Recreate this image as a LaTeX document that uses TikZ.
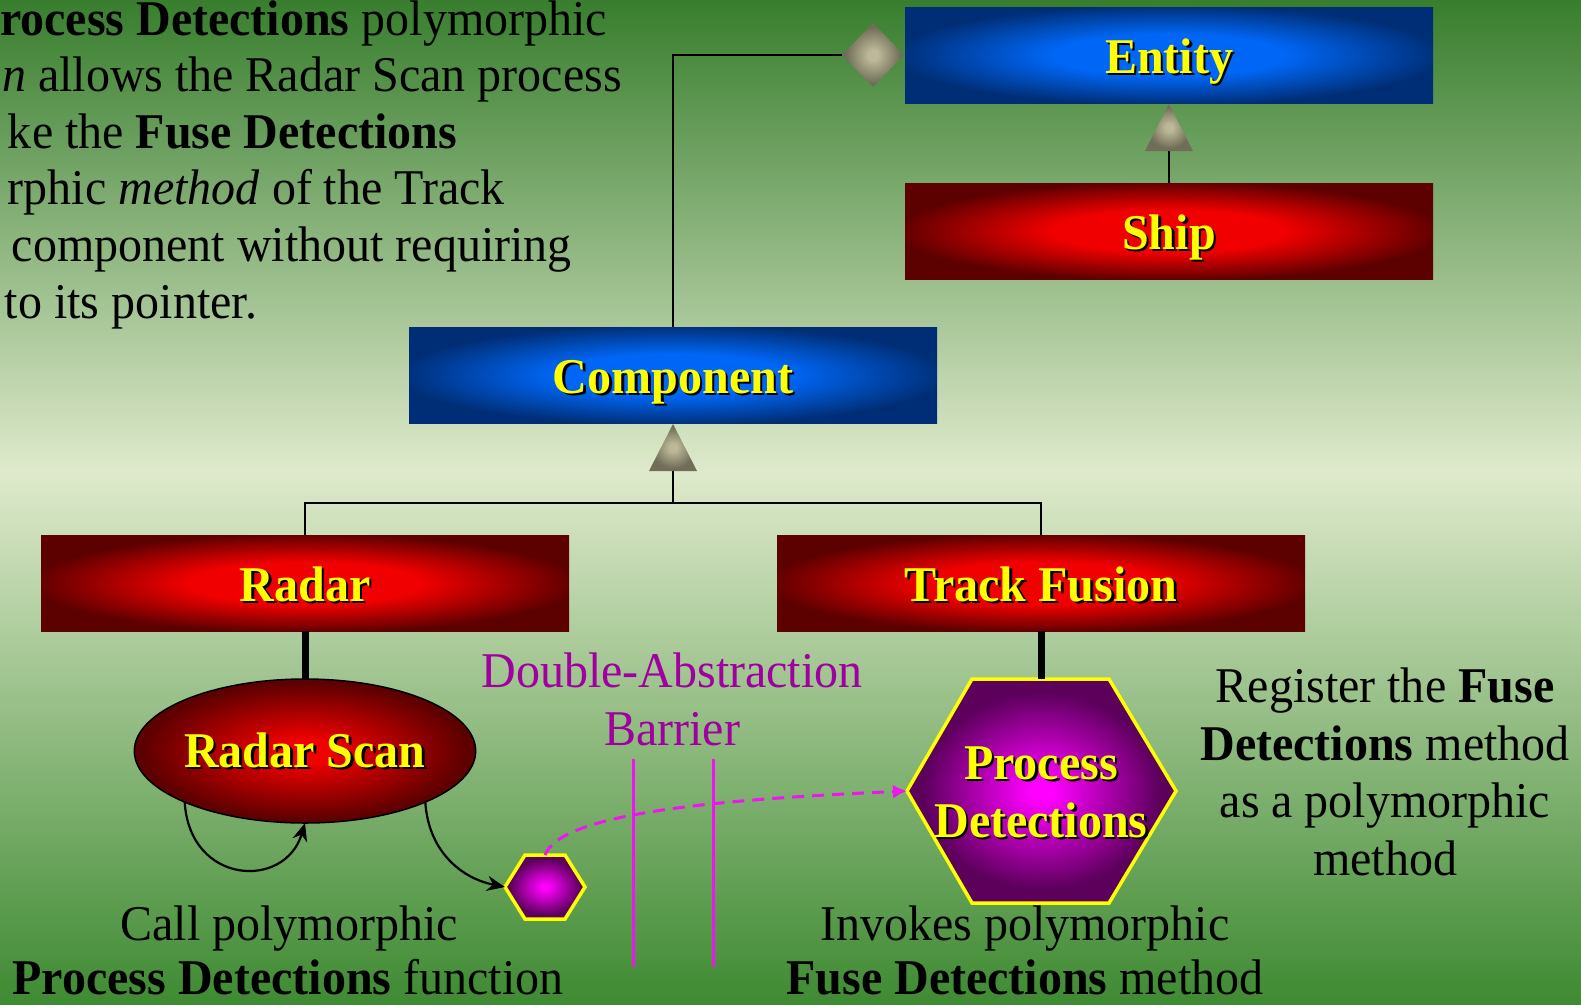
\documentclass[tikz,border=0pt]{standalone}
\usepackage{fontspec}
\setmainfont{Liberation Serif}[FakeStretch=0.96]
\usetikzlibrary{arrows.meta,shapes.geometric}
\definecolor{bgtop}{RGB}{56,126,46}
\definecolor{bglight}{RGB}{223,234,204}
\definecolor{bgbot}{RGB}{62,138,50}
\definecolor{rbright}{RGB}{240,0,0}
\definecolor{rdark}{RGB}{92,0,0}
\definecolor{bbright}{RGB}{0,102,245}
\definecolor{bdark}{RGB}{0,46,118}
\definecolor{mbright}{RGB}{255,0,255}
\definecolor{mdark}{RGB}{92,0,92}
\definecolor{kbright}{RGB}{188,184,152}
\definecolor{kdark}{RGB}{112,110,88}
\definecolor{barrier}{RGB}{240,20,240}
\definecolor{purpletxt}{RGB}{160,0,160}
\definecolor{lblyellow}{RGB}{255,255,0}
\pgfdeclareradialshading{redfill}{\pgfpoint{0bp}{0bp}}{color(0bp)=(rbright); color(11bp)=(rbright); color(26bp)=(rdark); color(50bp)=(rdark)}
\pgfdeclareradialshading{bluefill}{\pgfpoint{0bp}{0bp}}{color(0bp)=(bbright); color(11bp)=(bbright); color(26bp)=(bdark); color(50bp)=(bdark)}
\pgfdeclareradialshading{ellfill}{\pgfpoint{0bp}{0bp}}{color(0bp)=(rbright); color(4bp)=(rbright); color(24bp)=(rdark); color(50bp)=(rdark)}
\pgfdeclareradialshading{magfill}{\pgfpoint{0bp}{0bp}}{color(0bp)=(mbright); color(2bp)=(mbright); color(22bp)=(mdark); color(50bp)=(mdark)}
\pgfdeclareradialshading{khakifill}{\pgfpoint{0bp}{0bp}}{color(0bp)=(kbright); color(4bp)=(kbright); color(22bp)=(kdark); color(50bp)=(kdark)}
\newcommand\shtext[1]{\makebox[0pt][l]{\kern2.5pt\raisebox{-2.5pt}{\textcolor{black}{#1}}}#1}
\begin{document}
\begin{tikzpicture}[x=1pt,y=-1pt,
  every node/.style={inner sep=0pt, outer sep=0pt, font=\fontsize{50}{57.5}\selectfont},
  classbox/.style={rectangle, minimum width=528pt, minimum height=96pt, shade, text height=36pt, text depth=0pt, text=lblyellow, font=\fontsize{50}{57.5}\selectfont\bfseries},
  bluebox/.style={classbox, shading=bluefill},
  redbox/.style={classbox, shading=redfill},
  khaki/.style={shade, shading=khakifill},
  thinline/.style={draw=black, line width=2.5pt},
  thickline/.style={draw=black, line width=7pt},
  callarrow/.style={draw=black, line width=2.2pt, -{Stealth[length=18pt,width=15pt]}},
  dasharrow/.style={draw=barrier, line width=3pt, dash pattern=on 12pt off 8pt, -{Latex[length=14pt,width=14pt]}},
  barrierline/.style={draw=barrier, line width=3pt},
  body/.style={anchor=base, text=black},
  bodyl/.style={anchor=base west, text=black},
  hexborder/.style={draw=lblyellow, line width=3.5pt, shade, shading=magfill},
]
\useasboundingbox (0,0) rectangle (1581,1004);
\shade[top color=bgtop, bottom color=bglight] (0,0) rectangle (1581,472);
\shade[top color=bglight, bottom color=bgbot] (0,471) rectangle (1581,1004);

% top-left text (cut at the left edge)
\node[bodyl] (t1) at (0,35) {\textbf{rocess Detections} polymorphic};
\node[bodyl] (t2) at (2,91) {\textit{n} allows the Radar Scan process};
\node[bodyl] (t3) at (8,148) {ke the \textbf{Fuse Detections}};
\node[bodyl] (t4) at (8,204) {rphic \textit{method} of the Track};
\node[bodyl] (t5) at (12,261) {component without requiring};
\node[bodyl] (t6) at (5,318) {to its pointer.};

% classes
\node[bluebox] (entity) at (1169,55) {\shtext{Entity}};
\node[redbox] (ship) at (1169,231) {\shtext{Ship}};
\node[bluebox] (component) at (673,375) {\shtext{Component}};
\node[redbox] (radar) at (305,583) {\shtext{Radar}};
\node[redbox] (track) at (1041,583) {\shtext{Track Fusion}};

% aggregation diamond
\node[diamond, khaki, minimum width=62pt, minimum height=64pt] (agg) at (873,55) {};
\draw[thinline] (agg.west) -| (component.north);

% generalisation triangles
\coordinate (gen1) at (1169,151);
\coordinate (gen1tip) at (1169,104);
\draw[thinline] (ship.north) -- (gen1);
\path[khaki] (gen1tip) -- (1193,151) -- (1145,151) -- cycle;

\coordinate (gen2) at (673,471);
\coordinate (gen2tip) at (673,424);
\coordinate (junction) at (673,503);
\draw[thinline] (gen2) -- (junction);
\draw[thinline] (radar.north) |- (junction) -| (track.north);
\path[khaki] (gen2tip) -- (697,471) -- (649,471) -- cycle;

% Radar Scan ellipse
\node[ellipse, minimum width=336pt, minimum height=144pt, shade, shading=ellfill, draw=black, line width=1.5pt,
      text height=32pt, text depth=0pt, text=lblyellow, font=\fontsize{50}{57.5}\selectfont\bfseries] (scan) at (305,751) {\shtext{Radar Scan}};
\draw[thickline] (radar.south) -- (scan.north);

% small hexagon
\coordinate (shL) at (505,887);
\coordinate (shTL) at (525,855);
\coordinate (shTR) at (565,855);
\coordinate (shR) at (585,887);
\coordinate (shBR) at (565,919);
\coordinate (shBL) at (525,919);
\coordinate (shTop) at (545,855);
\path[hexborder] (shL) -- (shTL) -- (shTR) -- (shR) -- (shBR) -- (shBL) -- cycle;

% big hexagon
\coordinate (pdL) at (907,791);
\coordinate (pdTL) at (972,679);
\coordinate (pdTR) at (1109,679);
\coordinate (pdR) at (1176,791);
\coordinate (pdBR) at (1109,903);
\coordinate (pdBL) at (972,903);
\coordinate (pdTop) at (1041,679);
\path[hexborder] (pdL) -- (pdTL) -- (pdTR) -- (pdR) -- (pdBR) -- (pdBL) -- cycle;
\node[anchor=base, text=lblyellow, font=\fontsize{50}{57.5}\selectfont\bfseries] (pd1) at (1041,779) {\shtext{Process}};
\node[anchor=base, text=lblyellow, font=\fontsize{50}{57.5}\selectfont\bfseries] (pd2) at (1041,837) {\shtext{Detections}};
\draw[thickline] (track.south) -- (pdTop);

% calls
\draw[callarrow] (scan.203) .. controls +(5,83) and +(-20,67) .. (scan.south);
\draw[callarrow] (scan.-23) .. controls +(3,48) and +(-45,-9) .. (shL);

% barrier
\coordinate (b1top) at (633,759);
\coordinate (b1bot) at (633,967);
\coordinate (b2top) at (713,759);
\coordinate (b2bot) at (713,967);
\draw[barrierline] (b1top) -- (b1bot);
\draw[barrierline] (b2top) -- (b2bot);
\node[anchor=base, text=purpletxt] (bar1) at (672,687) {Double-Abstraction};
\node[anchor=base, text=purpletxt] (bar2) at (672,745) {Barrier};

\draw[dasharrow] (shTop) .. controls +(15,-40) and +(-205,9) .. (pdL);

% captions
\node[body] (c1) at (289,940) {Call polymorphic};
\node[body] (c2) at (288,994) {\textbf{Process Detections} function};
\node[body] (i1) at (1025,940) {Invokes polymorphic};
\node[body] (i2) at (1025,994) {\textbf{Fuse Detections} method};
\node[body] (r1) at (1385,702) {Register the \textbf{Fuse}};
\node[body] (r2) at (1385,760) {\textbf{Detections} method};
\node[body] (r3) at (1385,817) {as a polymorphic};
\node[body] (r4) at (1385,875) {method};
\end{tikzpicture}
\end{document}
